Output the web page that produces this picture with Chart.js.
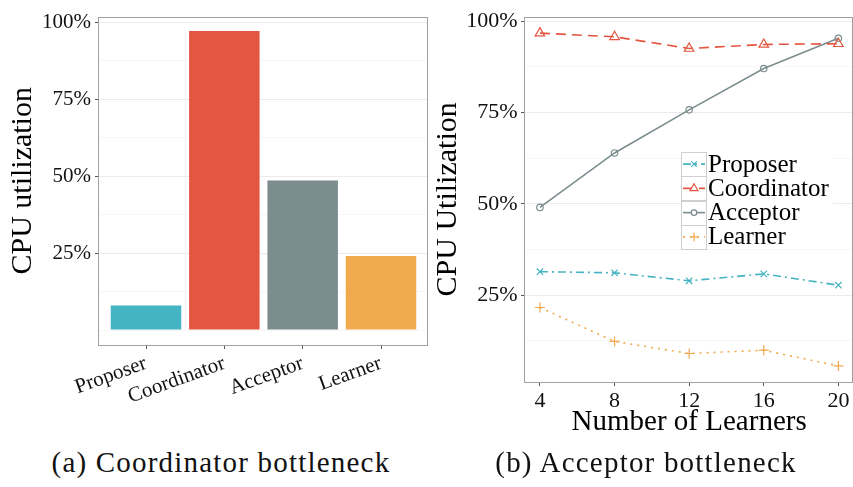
<!DOCTYPE html>
<html>
<head>
<meta charset="utf-8">
<script src="https://cdn.jsdelivr.net/npm/chart.js@4/dist/chart.umd.min.js"></script>
<style>
  html, body { margin: 0; padding: 0; background: #fff; overflow: hidden; }
  #wrap { position: relative; width: 853px; height: 487px; overflow: hidden; background: #fff; }
  canvas { position: absolute; top: 0; }
  #cpuBars { left: 0; }
  #cpuLines { left: 430px; }
  .caption {
    position: absolute; top: 448px;
    font-family: 'Liberation Serif', 'Times New Roman', serif;
    font-size: 29px; line-height: 29px; letter-spacing: 1.2px;
    text-align: center; color: #111; white-space: nowrap;
  }
</style>
</head>
<body>
<div id="wrap">
  <canvas id="cpuBars" width="440" height="440" style="width:440px;height:440px"></canvas>
  <canvas id="cpuLines" width="430" height="440" style="width:430px;height:440px"></canvas>
  <div class="caption" style="left:0;width:442px">(a) Coordinator bottleneck</div>
  <div class="caption" style="left:440px;width:412px">(b) Acceptor bottleneck</div>
</div>
<script>
// ---- data -------------------------------------------------------------
const roles = ['Proposer', 'Coordinator', 'Acceptor', 'Learner'];
const roleUtilization = [8.0, 97.2, 48.6, 24.1];          // % CPU, one learner

const learnerCounts = [4, 8, 12, 16, 20];
const proposerUtil    = [31.4, 31.1, 28.9, 30.8, 27.7];
const coordinatorUtil = [96.7, 95.7, 92.5, 93.6, 93.8];
const acceptorUtil    = [49.0, 63.9, 75.7, 87.0, 95.3];
const learnerUtil     = [21.6, 12.3, 9.0, 9.9, 5.6];

const majorTicks = [25, 50, 75, 100];
const minorTicks = [0, 12.5, 37.5, 62.5, 87.5];

// ---- styling ----------------------------------------------------------
const SERIF = "'Liberation Serif', 'Times New Roman', serif";
const roleColors = ['#44B3C2', '#E45641', '#7B8D8E', '#F1A94E'];

Chart.defaults.font.family = SERIF;
Chart.defaults.color = '#111';
Chart.defaults.animation = false;

// grey frame round the plotting panel
const panelBorder = {
  id: 'panelBorder',
  afterDatasetsDraw(chart) {
    const { ctx, chartArea: a } = chart;
    ctx.save();
    ctx.strokeStyle = '#A0A0A0';
    ctx.lineWidth = 1;
    ctx.setLineDash([]);
    const l = Math.round(a.left) - 0.5, t = Math.round(a.top) + 0.5;
    const r = Math.round(a.right) - 0.5, b = Math.round(a.bottom) + 0.5;
    ctx.strokeRect(l, t, r - l, b - t);
    ctx.restore();
  }
};

const isMajor = v => majorTicks.includes(v);

function percentAxis(min, max, labelSize, labelPad, axisWidth, titleText, titlePad) {
  return {
    type: 'linear', min, max,
    afterBuildTicks: s => {
      s.ticks = [...minorTicks, ...majorTicks]
        .filter(v => v >= min && v <= max)
        .sort((a, b) => a - b)
        .map(v => ({ value: v }));
    },
    afterFit: s => { s.width = axisWidth; },
    ticks: {
      callback: v => isMajor(v) ? v + '%' : '',
      font: { size: labelSize }, padding: labelPad, color: '#111'
    },
    grid: {
      color: c => (c.tick && isMajor(c.tick.value)) ? '#EBEBEB' : '#F6F6F6',
      lineWidth: 1,
      tickLength: 4,
      tickColor: c => (c.tick && isMajor(c.tick.value)) ? '#555' : 'rgba(0,0,0,0)'
    },
    border: { display: false },
    title: {
      display: true, text: titleText, color: '#000',
      font: { size: 30 }, padding: { top: titlePad, bottom: 0 }
    }
  };
}

// ---- (a) per-role CPU utilisation ---------------------------------------
new Chart(document.getElementById('cpuBars'), {
  type: 'bar',
  data: {
    datasets: [{
      data: roleUtilization.map((v, i) => ({ x: i + 1, y: v })),
      backgroundColor: roleColors,
      borderWidth: 0,
      barPercentage: 0.9,
      categoryPercentage: 1.0
    }]
  },
  options: {
    responsive: false,
    devicePixelRatio: 1,
    layout: { padding: { top: 14, left: 0, right: 12, bottom: 0 } },
    plugins: { legend: { display: false }, tooltip: { enabled: false } },
    scales: {
      x: {
        type: 'linear', min: 0.4, max: 4.6, offset: false,
        afterBuildTicks: s => { s.ticks = roles.map((_, i) => ({ value: i + 1 })); },
        afterFit: s => { s.height = 95; },
        ticks: {
          callback: v => roles[v - 1],
          font: { size: 21 }, color: '#111',
          minRotation: 20, maxRotation: 20, autoSkip: false, padding: 2
        },
        grid: { offset: false, drawOnChartArea: false, tickLength: 4, tickColor: '#555' },
        border: { display: false }
      },
      y: percentAxis(-4.85, 101.85, 21, 4, 99, 'CPU utilization', 5)
    }
  },
  plugins: [panelBorder]
});

// ---- (b) utilisation as learners are added -----------------------------
const series = [
  { label: 'Proposer',    values: proposerUtil,    color: roleColors[0], dash: [8, 4, 2, 4], point: 'crossRot', r: 4.5 },
  { label: 'Coordinator', values: coordinatorUtil, color: roleColors[1], dash: [10, 6],      point: 'triangle', r: 5.5 },
  { label: 'Acceptor',    values: acceptorUtil,    color: roleColors[2], dash: [],           point: 'circle',   r: 3.2 },
  { label: 'Learner',     values: learnerUtil,     color: roleColors[3], dash: [2, 5],       point: 'cross',    r: 5 }
];

// boxed key drawn inside the panel
const keyBox = {
  id: 'keyBox',
  afterDraw(chart) {
    const ctx = chart.ctx;
    const x0 = 251, y0 = 152, row = 24.25, key = 25, right = 403;
    ctx.save();
    ctx.fillStyle = '#fff';
    ctx.fillRect(x0, y0, right - x0, row * chart.data.datasets.length);
    chart.data.datasets.forEach((ds, i) => {
      const top = y0 + i * row, mid = top + row / 2;
      ctx.setLineDash([]);
      ctx.strokeStyle = '#CFCFCF';
      ctx.lineWidth = 1;
      ctx.strokeRect(x0 + 0.5, Math.round(top) + 0.5, key, Math.round(row));
      ctx.strokeStyle = ds.borderColor;
      ctx.lineWidth = ds.borderWidth;
      ctx.setLineDash(ds.borderDash);
      ctx.beginPath();
      ctx.moveTo(x0 + 2, mid);
      ctx.lineTo(x0 + key - 1, mid);
      ctx.stroke();
      ctx.setLineDash([]);
      ctx.fillStyle = '#fff';
      ctx.strokeStyle = ds.borderColor;
      ctx.lineWidth = ds.pointBorderWidth;
      Chart.helpers.drawPoint(ctx, {
        pointStyle: ds.pointStyle, radius: ds.pointRadius * 0.85, rotation: 0, borderWidth: ds.pointBorderWidth
      }, x0 + key / 2 + 0.5, mid);
      ctx.fillStyle = '#000';
      ctx.font = '25px ' + SERIF;
      ctx.textAlign = 'left';
      ctx.textBaseline = 'middle';
      ctx.fillText(ds.label, x0 + key + 2, mid + 1);
    });
    ctx.restore();
  }
};

new Chart(document.getElementById('cpuLines'), {
  type: 'line',
  data: {
    datasets: series.map(s => ({
      label: s.label,
      data: s.values.map((v, i) => ({ x: learnerCounts[i], y: v })),
      borderColor: s.color,
      borderWidth: 1.6,
      borderDash: s.dash,
      pointStyle: s.point,
      pointRadius: s.r,
      pointBorderWidth: 1.2,
      pointBorderColor: s.color,
      pointBackgroundColor: 'rgba(0,0,0,0)',
      tension: 0,
      fill: false
    }))
  },
  options: {
    responsive: false,
    devicePixelRatio: 1,
    layout: { padding: { top: 14, left: 0, right: 5.7, bottom: 0 } },
    plugins: { legend: { display: false }, tooltip: { enabled: false } },
    scales: {
      x: {
        type: 'linear', min: 3.2, max: 20.8,
        afterBuildTicks: s => { s.ticks = learnerCounts.map(v => ({ value: v })); },
        afterFit: s => { s.height = 58; },
        ticks: { font: { size: 22 }, color: '#111', padding: 2, maxRotation: 0 },
        grid: { drawOnChartArea: false, tickLength: 4, tickColor: '#555' },
        border: { display: false },
        title: {
          display: true, text: 'Number of Learners', color: '#000',
          font: { size: 29 }, padding: { top: 0, bottom: 0 }
        }
      },
      y: percentAxis(1.2, 101.2, 22, 3.5, 95, 'CPU Utilization', 0)
    }
  },
  plugins: [panelBorder, keyBox]
});
</script>
</body>
</html>
